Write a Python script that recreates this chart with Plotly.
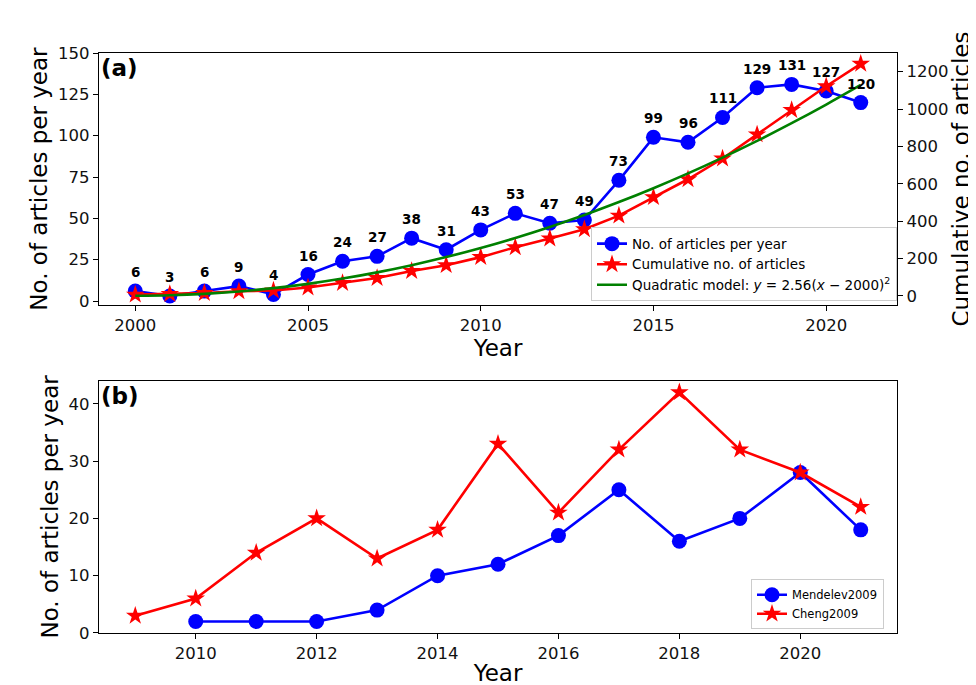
import numpy as np
import plotly.graph_objects as go

# ---- data ----
years_a = list(range(2000, 2022))
articles_per_year = [6, 3, 6, 9, 4, 16, 24, 27, 38, 31, 43, 53, 47, 49, 73, 99, 96, 111, 129, 131, 127, 120]
cumulative = list(np.cumsum(articles_per_year))
quad_coef = 2.56
quad_base = 2000
quad_fit = [quad_coef * (y - quad_base) ** 2 for y in years_a]

years_mendelev = list(range(2010, 2022))
mendelev2009 = [2, 2, 2, 4, 10, 12, 17, 25, 16, 20, 28, 18]
years_cheng = list(range(2009, 2022))
cheng2009 = [3, 6, 14, 20, 13, 18, 33, 21, 32, 42, 32, 28, 22]

FONT = "DejaVu Sans"
W, H = 976, 685

fig = go.Figure()

fig.add_trace(go.Scatter(
    x=years_a, y=articles_per_year, mode="lines+markers",
    name="No. of articles per year",
    line=dict(color="blue", width=2.6),
    marker=dict(symbol="circle", size=15, color="blue"),
    xaxis="x", yaxis="y", legend="legend"))
fig.add_trace(go.Scatter(
    x=years_a, y=cumulative, mode="lines+markers",
    name="Cumulative no. of articles",
    line=dict(color="red", width=2.6),
    marker=dict(symbol="star", size=14, color="red"),
    xaxis="x", yaxis="y2", legend="legend"))
fig.add_trace(go.Scatter(
    x=years_a, y=quad_fit, mode="lines",
    name="Quadratic model: <i>y</i> = 2.56(<i>x</i> \u2212 2000)<sup>2</sup>",
    line=dict(color="green", width=2.6, shape="spline"),
    xaxis="x", yaxis="y2", legend="legend"))

fig.add_trace(go.Scatter(
    x=years_mendelev, y=mendelev2009, mode="lines+markers",
    name="Mendelev2009",
    line=dict(color="blue", width=2.6),
    marker=dict(symbol="circle", size=15, color="blue"),
    xaxis="x2", yaxis="y3", legend="legend2"))
fig.add_trace(go.Scatter(
    x=years_cheng, y=cheng2009, mode="lines+markers",
    name="Cheng2009",
    line=dict(color="red", width=2.6),
    marker=dict(symbol="star", size=14, color="red"),
    xaxis="x2", yaxis="y3", legend="legend2"))

annotations = []
for x, v in zip(years_a, articles_per_year):
    annotations.append(dict(
        x=x, y=v, xref="x", yref="y", text=f"<b>{v}</b>", showarrow=False,
        yshift=19, font=dict(family=FONT, size=13.5, color="black")))
annotations.append(dict(x=0.0, y=1.0, xref="x domain", yref="y domain",
                        text="<b>(a)</b>", showarrow=False, xanchor="left", yanchor="top",
                        font=dict(family=FONT, size=23, color="black")))
annotations.append(dict(x=0.0, y=1.0, xref="x2 domain", yref="y3 domain",
                        text="<b>(b)</b>", showarrow=False, xanchor="left", yanchor="top",
                        font=dict(family=FONT, size=23, color="black")))

axis_common = dict(showline=True, linecolor="black", linewidth=1.4, mirror=True,
                   ticks="outside", ticklen=5, tickwidth=1.4, tickcolor="black",
                   showgrid=False, zeroline=False,
                   tickfont=dict(family=FONT, size=16.5, color="#111"))
title_font = dict(family=FONT, size=23, color="black")

top_dom = [(627 - 298) / 582, 1.0]
bot_dom = [0.0, (627 - 374) / 582]

fig.update_layout(
    width=W, height=H,
    margin=dict(l=91, r=87, t=45, b=58),
    paper_bgcolor="white", plot_bgcolor="white",
    font=dict(family=FONT, color="black"),
    annotations=annotations,
    xaxis=dict(axis_common, domain=[0, 1], anchor="y", range=[1998.95, 2022.05],
               tickvals=[2000, 2005, 2010, 2015, 2020],
               title=dict(text="Year", font=title_font, standoff=4)),
    yaxis=dict(axis_common, domain=top_dom, anchor="x", range=[-2.5, 150],
               tickvals=[0, 25, 50, 75, 100, 125, 150],
               title=dict(text="No. of articles per year", font=title_font, standoff=3)),
    yaxis2=dict(axis_common, overlaying="y", side="right", anchor="x", range=[-50, 1300],
                mirror=False,
                tickvals=[0, 200, 400, 600, 800, 1000, 1200],
                title=dict(text="Cumulative no. of articles", font=title_font, standoff=5)),
    xaxis2=dict(axis_common, domain=[0, 1], anchor="y3", range=[2008.4, 2021.6],
                tickvals=[2010, 2012, 2014, 2016, 2018, 2020],
                title=dict(text="Year", font=title_font, standoff=2)),
    yaxis3=dict(axis_common, domain=bot_dom, anchor="x2", range=[0, 44],
                tickvals=[0, 10, 20, 30, 40],
                title=dict(text="No. of articles per year", font=title_font, standoff=3)),
    legend=dict(x=(583 - 91) / 798, y=(627 - 220) / 582, xanchor="left", yanchor="top",
                bgcolor="rgba(255,255,255,0.85)", bordercolor="#cccccc", borderwidth=1,
                font=dict(family=FONT, size=13.5, color="black"),
                tracegroupgap=0, itemwidth=30),
    legend2=dict(x=(743 - 91) / 798, y=(627 - 573) / 582, xanchor="left", yanchor="top",
                 bgcolor="rgba(255,255,255,0.85)", bordercolor="#cccccc", borderwidth=1,
                 font=dict(family=FONT, size=11.5, color="black"),
                 tracegroupgap=0, itemwidth=30),
    showlegend=True,
)

fig.write_html("out.html")
